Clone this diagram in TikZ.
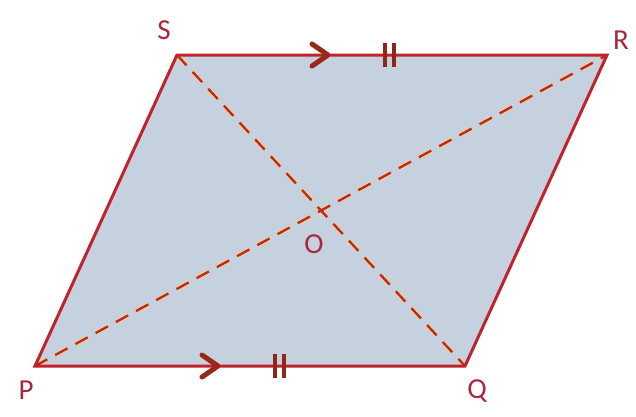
\documentclass[tikz,border=0pt]{standalone}
\usepackage{fontspec}
\setmainfont{Carlito}
\usepackage{xcolor}
\usetikzlibrary{positioning}
\definecolor{kante}{HTML}{C1222C}
\definecolor{diag}{HTML}{B3301C}
\definecolor{flaeche}{HTML}{C6D1DF}
\definecolor{schrift}{HTML}{A8283E}
\tikzset{
  Kante/.style={kante,line width=3pt,line join=miter}, % Seiten
  Diag/.style={diag,line width=2.4pt,dash pattern=on 14pt off 9pt}, % Diagonalen
  Halo/.style={orange!40,line width=4.4pt,dash pattern=on 14pt off 9pt},
  Ecke/.style={text=schrift,font=\fontsize{29}{32}\selectfont,inner sep=0pt},
  Pfeil/.style={diag!85!black,line width=5pt,line cap=round,line join=round},
  Strich/.style={diag!80!black,line width=4pt}
}
\begin{document}
\begin{tikzpicture}[x=1pt,y=-1pt]
\useasboundingbox (0,0) rectangle (636,416);

%Ecken
\coordinate (P) at (35,366);
\coordinate (Q) at (465,366);
\coordinate (R) at (607,55);
\coordinate (S) at (177,55);

%Flaeche
\fill[flaeche] (P) -- (Q) -- (R) -- (S) -- cycle;

%Diagonalen
\draw[Halo] (P) -- (R);
\draw[Halo] (S) -- (Q);
\draw[Diag] (P) -- (R);
\draw[Diag] (S) -- (Q);

%Seiten
\draw[Kante] (P) -- (Q) -- (R) -- (S) -- cycle;

%Pfeile und Striche
\foreach \x/\y in {328/55, 218/366}{%
  \draw[Pfeil] (\x-16,\y-11) -- (\x,\y) -- (\x-16,\y+11);
}
\foreach \x/\y in {389/55, 279/366}{%
  \draw[Strich] (\x-4.5,\y-12) -- (\x-4.5,\y+12);
  \draw[Strich] (\x+4.5,\y-12) -- (\x+4.5,\y+12);
}

%Beschriftung
\node[Ecke] (lS) at (164,30) {S};
\node[Ecke] (lR) at (621,40) {R};
\node[Ecke] (lP) at (26,390) {P};
\node[Ecke] (lQ) at (477,391) {Q};
\node[Ecke] (lO) at (314,244) {O};

\end{tikzpicture}
\end{document}
